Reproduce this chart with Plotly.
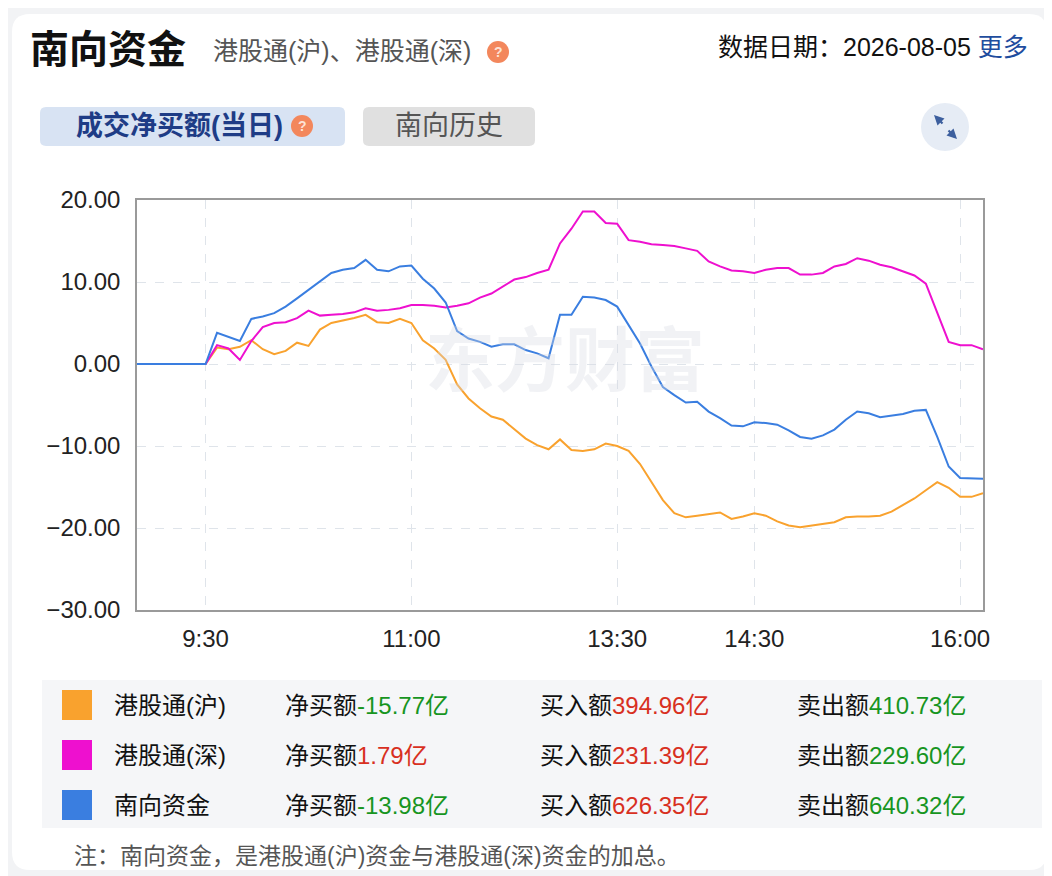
import plotly.graph_objects as go

# trading time, 5 min steps (lunch break 12:00-13:00 dropped)
times = [
    "09:00", "09:05", "09:10", "09:15", "09:20", "09:25", "09:30", "09:35", "09:40", "09:45",
    "09:50", "09:55", "10:00", "10:05", "10:10", "10:15", "10:20", "10:25", "10:30", "10:35",
    "10:40", "10:45", "10:50", "10:55", "11:00", "11:05", "11:10", "11:15", "11:20", "11:25",
    "11:30", "11:35", "11:40", "11:45", "11:50", "11:55", "12:00",
    "13:05", "13:10", "13:15", "13:20", "13:25", "13:30", "13:35", "13:40", "13:45", "13:50",
    "13:55", "14:00", "14:05", "14:10", "14:15", "14:20", "14:25", "14:30", "14:35", "14:40",
    "14:45", "14:50", "14:55", "15:00", "15:05", "15:10", "15:15", "15:20", "15:25", "15:30",
    "15:35", "15:40", "15:45", "15:50", "15:55", "16:00", "16:05", "16:10",
]

# 港股通(沪) net buy, 亿
hu = [
    0, 0, 0, 0, 0, 0, 0, 2.0, 1.8, 2.1,
    2.9, 1.8, 1.2, 1.6, 2.6, 2.2, 4.2, 5.0, 5.3, 5.6,
    6.0, 5.1, 5.0, 5.5, 5.0, 2.9, 1.9, 0.5, -2.5, -4.2,
    -5.4, -6.4, -6.8, -8.0, -9.1, -9.9, -10.4,
    -9.2, -10.5, -10.6, -10.4, -9.7, -10.0, -10.6, -12.2, -14.4, -16.6,
    -18.2, -18.7, -18.5, -18.3, -18.1, -18.9, -18.6, -18.2, -18.5, -19.2,
    -19.7, -19.9, -19.7, -19.5, -19.3, -18.7, -18.6, -18.6, -18.5, -18.0,
    -17.2, -16.4, -15.4, -14.4, -15.1, -16.2, -16.2, -15.77,
]

# 港股通(深) net buy, 亿
shen = [
    0, 0, 0, 0, 0, 0, 0, 2.3, 1.9, 0.5,
    2.8, 4.5, 5.0, 5.1, 5.6, 6.5, 5.9, 6.0, 6.1, 6.3,
    6.8, 6.5, 6.6, 6.8, 7.2, 7.2, 7.1, 6.9, 7.1, 7.4,
    8.1, 8.6, 9.4, 10.3, 10.6, 11.1, 11.5,
    14.7, 16.5, 18.6, 18.6, 17.2, 17.1, 15.1, 14.9, 14.6, 14.5,
    14.4, 14.1, 13.8, 12.5, 11.9, 11.4, 11.3, 11.1, 11.5, 11.7,
    11.7, 10.9, 10.9, 11.1, 11.9, 12.2, 12.9, 12.6, 12.1, 11.8,
    11.3, 10.8, 9.8, 6.2, 2.7, 2.3, 2.3, 1.79,
]

# 南向资金 net buy, 亿
south = [
    0, 0, 0, 0, 0, 0, 0, 3.8, 3.3, 2.8,
    5.5, 5.8, 6.2, 7.0, 8.0, 9.0, 10.0, 11.1, 11.5, 11.7,
    12.7, 11.5, 11.3, 11.9, 12.0, 10.4, 9.2, 7.5, 4.0, 3.1,
    2.7, 2.1, 2.4, 2.4, 1.7, 1.3, 0.7,
    6.0, 6.0, 8.2, 8.1, 7.8, 7.0, 4.8, 2.5, -0.3, -2.8,
    -3.8, -4.7, -4.6, -5.8, -6.6, -7.5, -7.6, -7.1, -7.2, -7.4,
    -8.1, -8.9, -9.1, -8.7, -8.0, -6.8, -5.8, -6.0, -6.5, -6.3,
    -6.1, -5.7, -5.6, -8.9, -12.5, -13.9, -13.9, -13.98,
]

names = ["港股通(沪)", "港股通(深)", "南向资金"]
colors = ["#f9a22e", "#ee10cf", "#3a7ee0"]
net_buy = ["-15.77", "1.79", "-13.98"]
buy_amt = ["394.96", "231.39", "626.35"]
sell_amt = ["410.73", "229.60", "640.32"]

x_ticks = ["09:30", "11:00", "13:30", "14:30", "16:00"]
x_ticktext = ["9:30", "11:00", "13:30", "14:30", "16:00"]
y_ticks = [20, 10, 0, -10, -20, -30]

FONT = "Liberation Sans, Noto Sans CJK SC, sans-serif"
RED = "#d8301f"
GREEN = "#17951f"

# page has an 8px body margin, so the figure is drawn 8px smaller
OFF = 8
W, H = 1052, 876
L, R, T, B = 137, 983, 200, 610


def px(x):
    return (x - L) / (R - L)


def py(y):
    return (B - y) / (B - T)


def rrect(x0, y0, x1, y1, r):
    # rounded rectangle path, pixel coords -> paper coords
    p = lambda x, y: "%.5f,%.5f" % (px(x), py(y))
    return ("M " + p(x0 + r, y0) + " L " + p(x1 - r, y0) + " Q " + p(x1, y0) + " " + p(x1, y0 + r)
            + " L " + p(x1, y1 - r) + " Q " + p(x1, y1) + " " + p(x1 - r, y1)
            + " L " + p(x0 + r, y1) + " Q " + p(x0, y1) + " " + p(x0, y1 - r)
            + " L " + p(x0, y0 + r) + " Q " + p(x0, y0) + " " + p(x0 + r, y0) + " Z")


def label(x, y, text, size, color, xanchor="center", **kw):
    return dict(x=px(x), y=py(y), xref="paper", yref="paper", text=text,
                xanchor=xanchor, yanchor="middle", showarrow=False,
                font=dict(size=size, color=color, family=FONT), **kw)


fig = go.Figure()
series = [hu, shen, south]
for i in range(3):
    fig.add_trace(
        go.Scatter(
            x=times,
            y=series[i],
            mode="lines",
            name=names[i],
            line=dict(color=colors[i], width=2),
        )
    )

shapes = []
annotations = []

# gray page + white card
shapes.append(dict(type="rect", xref="paper", yref="paper", layer="below",
                   x0=px(0), x1=px(W), y0=py(H), y1=py(0),
                   fillcolor="#f2f3f5", line=dict(width=0)))
shapes.append(dict(type="path", xref="paper", yref="paper", layer="below",
                   path=rrect(12, 14, 1047, 870, 18), fillcolor="white", line=dict(width=0)))
# buttons
shapes.append(dict(type="path", xref="paper", yref="paper", layer="below",
                   path=rrect(40, 107, 345, 146, 6), fillcolor="#d8e3f3", line=dict(width=0)))
shapes.append(dict(type="path", xref="paper", yref="paper", layer="below",
                   path=rrect(363, 107, 535, 146, 6), fillcolor="#e0e0e0", line=dict(width=0)))
# legend panel
shapes.append(dict(type="rect", xref="paper", yref="paper", layer="below",
                   x0=px(42), x1=px(1042), y0=py(828), y1=py(680),
                   fillcolor="#f5f6f8", line=dict(width=0)))

# "?" icons
for cx, cy in [(498, 52), (302, 126)]:
    shapes.append(dict(type="circle", xref="paper", yref="paper",
                       x0=px(cx - 11), x1=px(cx + 11), y0=py(cy + 11), y1=py(cy - 11),
                       fillcolor="#f3875c", line=dict(width=0)))
    annotations.append(label(cx, cy, "<b>?</b>", 14, "#fde3d6"))

# expand button
shapes.append(dict(type="circle", xref="paper", yref="paper",
                   x0=px(921), x1=px(969), y0=py(151), y1=py(103),
                   fillcolor="#e6ecf5", line=dict(width=0)))
annotations.append(dict(x=px(934), y=py(115), xref="paper", yref="paper", text="",
                        showarrow=True, ax=10, ay=10, arrowhead=2, arrowsize=0.9,
                        arrowwidth=2.2, arrowcolor="#3d5f9e"))
annotations.append(dict(x=px(957), y=py(139), xref="paper", yref="paper", text="",
                        showarrow=True, ax=-10, ay=-10, arrowhead=2, arrowsize=0.9,
                        arrowwidth=2.2, arrowcolor="#3d5f9e"))

# header texts
annotations.append(label(28, 50, "<b>南向资金</b>", 39, "#111111", xanchor="left"))
annotations.append(label(211, 51, "港股通(沪)、港股通(深)", 25, "#555555", xanchor="left"))
annotations.append(label(1030, 47, "数据日期：2026-08-05 <span style='color:#1f4d9e'>更多</span>",
                         25, "#111111", xanchor="right"))
annotations.append(label(179, 126, "<b>成交净买额(当日)</b>", 27, "#1e3c86"))
annotations.append(label(449, 126, "南向历史", 27, "#555555"))

# watermark
annotations.append(label(565, 362, "<b>东方财富</b>", 70, "rgba(215,219,227,0.35)"))

# legend table
for i in range(3):
    cy = 705 + 50 * i
    shapes.append(dict(type="rect", xref="paper", yref="paper",
                       x0=px(62), x1=px(92), y0=py(cy + 15), y1=py(cy - 15),
                       fillcolor=colors[i], line=dict(width=0)))
    net_col = GREEN if net_buy[i].startswith("-") else RED
    cells = [
        (112, names[i]),
        (283, "净买额<span style='color:%s'>%s亿</span>" % (net_col, net_buy[i])),
        (538, "买入额<span style='color:%s'>%s亿</span>" % (RED, buy_amt[i])),
        (795, "卖出额<span style='color:%s'>%s亿</span>" % (GREEN, sell_amt[i])),
    ]
    for cx, txt in cells:
        annotations.append(label(cx, cy, txt, 24, "#111111", xanchor="left"))

annotations.append(label(72, 856, "注：南向资金，是港股通(沪)资金与港股通(深)资金的加总。",
                         23, "#555555", xanchor="left"))

fig.update_layout(
    width=W - OFF,
    height=H - OFF,
    margin=dict(l=L - OFF, r=W - R, t=T - OFF, b=H - B),
    paper_bgcolor="#f2f3f5",
    plot_bgcolor="rgba(0,0,0,0)",
    showlegend=False,
    font=dict(family=FONT, size=24, color="#222222"),
    shapes=shapes,
    annotations=annotations,
    xaxis=dict(
        type="category",
        range=[0, len(times) - 1],
        tickmode="array",
        tickvals=x_ticks,
        ticktext=x_ticktext,
        showgrid=True,
        gridcolor="#dfe4ea",
        griddash="dash",
        showline=True,
        mirror=True,
        linecolor="#9a9a9a",
        linewidth=1.5,
        ticks="",
        ticklabelstandoff=6,
        tickfont=dict(size=24, color="#222222"),
    ),
    yaxis=dict(
        range=[-30, 20],
        tickmode="array",
        tickvals=y_ticks,
        tickformat=".2f",
        showgrid=True,
        gridcolor="#dfe4ea",
        griddash="dash",
        zeroline=False,
        showline=True,
        mirror=True,
        linecolor="#9a9a9a",
        linewidth=1.5,
        ticks="",
        ticklabelstandoff=10,
        tickfont=dict(size=24, color="#222222"),
    ),
)

fig.write_html("out.html")
